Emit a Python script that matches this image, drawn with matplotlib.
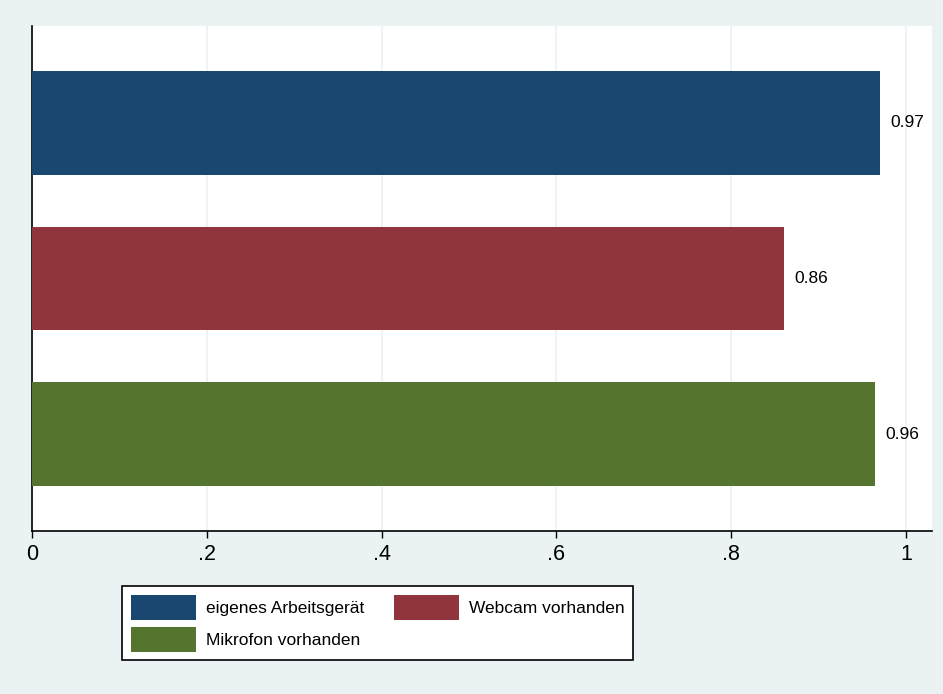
import matplotlib.pyplot as plt
from matplotlib.patches import Patch

plt.rcParams['font.family'] = ['Liberation Sans', 'DejaVu Sans']

# data
items = ["eigenes Arbeitsgerät", "Webcam vorhanden", "Mikrofon vorhanden"]
shares = [0.97, 0.86, 0.964]
value_labels = ["0.97", "0.86", "0.96"]
colors = ["#1a476f", "#90353b", "#55752f"]
xticks = [0, 0.2, 0.4, 0.6, 0.8, 1.0]
xtick_labels = ["0", ".2", ".4", ".6", ".8", "1"]

bg = "#eaf2f3"

fig = plt.figure(figsize=(9.43, 6.94), dpi=100, facecolor=bg)
ax = fig.add_axes([32 / 943, 1 - 531 / 694, 900 / 943, 505 / 694])
ax.set_facecolor("white")

pos = [1, 2, 3]
ax.barh(pos, shares, height=0.667, color=colors, zorder=3)
for p, v, lab in zip(pos, shares, value_labels):
    ax.text(v + 0.012, p, lab, va="center", ha="left", fontsize=12.5, zorder=4)

ax.set_ylim(3.622, 0.378)
ax.set_xlim(0, 1.0297)
ax.set_yticks([])
ax.set_xticks(xticks)
ax.set_xticklabels(xtick_labels, fontsize=15.5)
ax.tick_params(axis="x", length=5, width=1, pad=4, direction="out")
ax.grid(axis="x", color=bg, linewidth=1.2, zorder=0)

for s in ["top", "right"]:
    ax.spines[s].set_visible(False)
for s in ["left", "bottom"]:
    ax.spines[s].set_linewidth(1.2)
    ax.spines[s].set_color("black")

# legend fills column-wise: order so rows read eigenes | Webcam, Mikrofon
order = [0, 2, 1]
handles = [Patch(facecolor=colors[i], edgecolor="none") for i in order]
labels = [items[i] for i in order]
leg = fig.legend(handles, labels, ncol=2, loc="upper left",
                 bbox_to_anchor=(122 / 943, 1 - 586 / 694),
                 fontsize=12.5, frameon=True, fancybox=False,
                 edgecolor="black", facecolor="white", framealpha=1,
                 handlelength=3.75, handleheight=1.84, handletextpad=0.58,
                 columnspacing=1.72, labelspacing=0.4, borderpad=0.5,
                 borderaxespad=0)
leg.get_frame().set_linewidth(1.2)

fig.savefig("out.png", dpi=100, facecolor=bg)
